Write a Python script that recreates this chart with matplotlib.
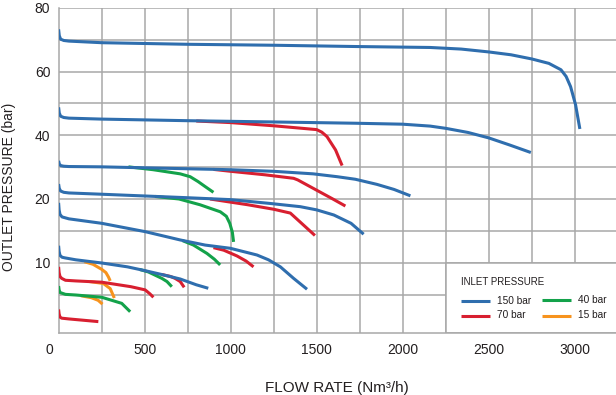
import matplotlib.pyplot as plt
from matplotlib.patches import Rectangle
import numpy as np

plt.rcParams['font.family'] = ['Liberation Sans', 'DejaVu Sans']

# curve data (flow Nm3/h, outlet pressure bar)
blue_1_x = [0, 4, 12, 30, 60, 250, 750, 1250, 1725, 2160, 2340, 2500, 2630, 2750, 2850, 2920, 2950, 2976, 3005, 3030]
blue_1_y = [73.3, 71.3, 70.2, 69.8, 69.6, 69.1, 68.6, 68.3, 67.9, 67.6, 67.1, 66.2, 65.3, 64.0, 62.6, 60.6, 58.5, 55.3, 49.6, 42.0]
blue_2_x = [0, 4, 12, 30, 60, 250, 750, 1250, 1725, 2000, 2160, 2250, 2380, 2500, 2620, 2745]
blue_2_y = [48.8, 47.0, 46.0, 45.6, 45.4, 45.1, 44.6, 44.2, 43.8, 43.5, 42.9, 42.2, 40.9, 39.2, 37.0, 34.6]
blue_3_x = [0, 4, 12, 30, 60, 250, 750, 1000, 1250, 1480, 1620, 1725, 1850, 1950, 2045]
blue_3_y = [32.0, 31.0, 30.5, 30.3, 30.2, 30.1, 29.5, 29.2, 28.7, 27.9, 27.0, 26.2, 24.6, 23.0, 21.0]
blue_4_x = [0, 4, 12, 30, 60, 250, 750, 1000, 1231, 1405, 1500, 1600, 1700, 1773]
blue_4_y = [24.7, 23.3, 22.5, 22.1, 21.9, 21.5, 20.4, 19.9, 19.3, 18.8, 18.3, 17.5, 16.2, 14.5]
blue_5_x = [0, 3, 8, 20, 60, 251, 503, 707, 852, 998, 1153, 1220, 1289, 1366, 1444]
blue_5_y = [19.4, 18.3, 17.6, 17.2, 16.9, 16.2, 14.9, 13.6, 12.8, 12.3, 11.25, 10.5, 9.4, 7.6, 5.9]
blue_6_x = [0, 3, 8, 20, 37, 100, 251, 400, 503, 600, 707, 800, 870]
blue_6_y = [12.7, 11.8, 11.2, 10.9, 10.8, 10.5, 10.0, 9.4, 8.8, 8.2, 7.5, 6.6, 6.05]

red_1_x = [800, 1000, 1250, 1500, 1530, 1560, 1610, 1648]
red_1_y = [44.5, 44.0, 43.0, 41.8, 41.0, 39.6, 35.4, 30.5]
red_2_x = [900, 1000, 1200, 1366, 1390, 1594, 1667]
red_2_y = [29.3, 28.7, 27.6, 26.5, 26.0, 20.0, 18.9]
red_3_x = [880, 1100, 1250, 1347, 1490]
red_3_y = [20.0, 19.1, 18.4, 17.8, 14.3]
red_4_x = [900, 960, 1037, 1090, 1133]
red_4_y = [12.4, 12.0, 11.1, 10.3, 9.4]
red_5_x = [600, 650, 677, 707, 730]
red_5_y = [8.2, 7.9, 7.6, 7.1, 6.2]
red_6_x = [0, 3, 8, 18, 40, 100, 251, 420, 503, 530, 551]
red_6_y = [9.4, 8.5, 7.9, 7.6, 7.3, 7.2, 7.0, 6.3, 5.8, 5.2, 4.7]
red_7_x = [0, 3, 8, 18, 60, 231]
red_7_y = [3.1, 2.5, 2.1, 1.95, 1.85, 1.5]

green_1_x = [406, 550, 707, 765, 810, 852, 900]
green_1_y = [30.1, 29.2, 27.9, 27.0, 25.5, 23.9, 22.1]
green_2_x = [560, 700, 822, 940, 975, 995, 1010, 1017]
green_2_y = [20.8, 20.0, 19.1, 18.0, 17.3, 16.2, 14.8, 13.3]
green_3_x = [720, 784, 862, 905, 939]
green_3_y = [13.5, 12.8, 11.5, 10.6, 9.7]
green_4_x = [470, 522, 600, 630, 658]
green_4_y = [9.0, 8.6, 7.6, 7.1, 6.3]
green_5_x = [0, 3, 8, 18, 40, 100, 251, 367, 416]
green_5_y = [6.4, 5.8, 5.4, 5.3, 5.1, 5.0, 4.7, 3.9, 2.8]

orange_1_x = [150, 200, 251, 275, 290, 300]
orange_1_y = [10.2, 9.8, 9.0, 8.5, 7.8, 7.2]
orange_2_x = [180, 260, 300, 324]
orange_2_y = [7.1, 6.8, 6.0, 4.6]
orange_3_x = [130, 190, 230, 255]
orange_3_y = [4.9, 4.65, 4.3, 3.8]

y_ticks = [10, 20, 40, 60, 80]
x_ticks = [500, 1000, 1500, 2000, 2500, 3000]
legend_names = ['150 bar', '70 bar', '40 bar', '15 bar']

BLUE, RED, GREEN, ORANGE = '#2f6eae', '#d81f30', '#13a24a', '#f7931e'
GRID = '#a8a8a8'
TXT = '#231f20'

# y axis is stretched below 20 bar
Y_KNOTS = [0, 5, 10, 20, 80]
PX_KNOTS = [0, 38, 70, 134, 325]

def fwd(y):
    return np.interp(y, Y_KNOTS, PX_KNOTS)

def inv(h):
    return np.interp(h, PX_KNOTS, Y_KNOTS)

fig = plt.figure(figsize=(6.16, 3.95), dpi=100)
ax = fig.add_axes([58.6 / 616, 62 / 395, 557.4 / 616, 325 / 395])
ax.set_yscale('function', functions=(fwd, inv))
ax.set_xlim(0, 3240)
ax.set_ylim(0, 80)
ax.set_axisbelow(True)

ax.set_yticks(y_ticks)
ax.set_yticks([5, 15, 30, 50, 70], minor=True)
ax.set_xticks(x_ticks)
ax.set_xticks(np.arange(250, 3250, 500), minor=True)
ax.grid(which='both', color=GRID, lw=1.1)
ax.tick_params(which='both', length=0, labelsize=10, labelcolor=TXT)
ax.tick_params(axis='y', pad=6)
ax.tick_params(axis='x', pad=7)
for s in ['top', 'right']:
    ax.spines[s].set_visible(False)
for s in ['left', 'bottom']:
    ax.spines[s].set_color(GRID)
    ax.spines[s].set_linewidth(1.1)

ax.annotate('0', xy=(0, 0), xycoords=('data', 'axes fraction'), xytext=(-7, -7),
            textcoords='offset points', ha='center', va='top', fontsize=10, color=TXT)

lw = 2.2
curves = [
    (orange_1_x, orange_1_y, ORANGE), (orange_2_x, orange_2_y, ORANGE), (orange_3_x, orange_3_y, ORANGE),
    (green_1_x, green_1_y, GREEN), (green_2_x, green_2_y, GREEN), (green_3_x, green_3_y, GREEN),
    (green_4_x, green_4_y, GREEN), (green_5_x, green_5_y, GREEN),
    (red_1_x, red_1_y, RED), (red_2_x, red_2_y, RED), (red_3_x, red_3_y, RED), (red_4_x, red_4_y, RED),
    (red_5_x, red_5_y, RED), (red_6_x, red_6_y, RED), (red_7_x, red_7_y, RED),
    (blue_1_x, blue_1_y, BLUE), (blue_2_x, blue_2_y, BLUE), (blue_3_x, blue_3_y, BLUE),
    (blue_4_x, blue_4_y, BLUE), (blue_5_x, blue_5_y, BLUE), (blue_6_x, blue_6_y, BLUE),
]
for i, (x, y, c) in enumerate(curves):
    ax.plot(x, y, color=c, lw=lw, solid_capstyle='butt', solid_joinstyle='round', zorder=3 + i * 0.01)

# legend panel
ax.add_patch(Rectangle((2250, 0), 1100, 10, facecolor='white', edgecolor=GRID, lw=1.1, zorder=1))

def pa(px, py):
    return ((px - 58.6) / 557.4, (333 - py) / 325)

ax.text(*pa(461, 282), 'INLET PRESSURE', transform=ax.transAxes, fontsize=7, color=TXT, va='center', ha='left')
leg = [(461, 301, BLUE, legend_names[0]), (461, 315.5, RED, legend_names[1]),
       (542, 300, GREEN, legend_names[2]), (542, 315.5, ORANGE, legend_names[3])]
for px, py, c, name in leg:
    x0, y0 = pa(px, py)
    x1, _ = pa(px + 29, py)
    ax.plot([x0, x1], [y0, y0], color=c, lw=2.2, transform=ax.transAxes, solid_capstyle='butt')
    ax.text(*pa(px + 36, py), name, transform=ax.transAxes, fontsize=7.3, color=TXT, va='center', ha='left')

ax.set_xlabel('FLOW RATE (Nm³/h)', fontsize=11, color=TXT)
ax.set_ylabel('OUTLET PRESSURE (bar)', fontsize=10, color=TXT)
ax.xaxis.set_label_coords(0.5, -0.148)
ax.yaxis.set_label_coords(-0.0764, 0.449)

fig.savefig('out.png', dpi=100)
